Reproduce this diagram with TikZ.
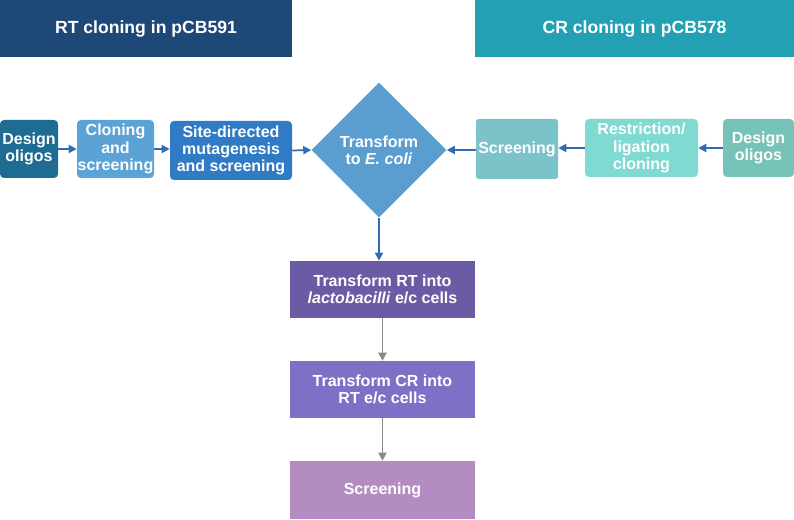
\documentclass[tikz,border=0pt]{standalone}
\usepackage{fontspec}
\setmainfont{Liberation Sans}
\usetikzlibrary{shapes.geometric,arrows.meta}
\definecolor{rthead}{RGB}{30, 72, 120}
\definecolor{crhead}{RGB}{35, 160, 180}
\definecolor{rtdesign}{RGB}{31, 108, 147}
\definecolor{rtclone}{RGB}{91, 163, 214}
\definecolor{rtsite}{RGB}{47, 123, 198}
\definecolor{ecoli}{RGB}{90, 158, 208}
\definecolor{crscreen}{RGB}{124, 195, 201}
\definecolor{crligate}{RGB}{127, 218, 210}
\definecolor{crdesign}{RGB}{120, 195, 185}
\definecolor{lacto}{RGB}{107, 91, 164}
\definecolor{rtcells}{RGB}{125, 112, 199}
\definecolor{finalscreen}{RGB}{179, 141, 194}
\definecolor{flowblue}{RGB}{47, 108, 181}
\definecolor{flowgray}{RGB}{138, 138, 138}

\begin{document}
\begin{tikzpicture}[x=0.75pt,y=-0.75pt,
    box/.style={inner sep=0pt,align=center,text=white,font=\fontsize{12}{13}\selectfont\bfseries},
    head/.style={box,font=\fontsize{13.2}{15}\selectfont\bfseries},
    bluearrow/.style={-{Triangle[length=6pt,width=6pt]},flowblue,line width=1.3pt},
    grayarrow/.style={-{Triangle[length=6pt,width=6pt]},flowgray,line width=1.4pt}]
                \useasboundingbox (0,0) rectangle (794,520);

                % headers
                \node[head,fill=rthead,minimum width=219pt,minimum height=42.75pt] (rthdr) at (146,28.5) {RT cloning in pCB591};
                \node[head,fill=crhead,minimum width=239pt,minimum height=42.75pt] (crhdr) at (634.5,28.5) {CR cloning in pCB578};

                % RT side
                \node[box,fill=rtdesign,rounded corners=3pt,minimum width=43.5pt,minimum height=43.5pt] (rtoligo) at (29,149) {Design\\oligos};
                \node[box,fill=rtclone,rounded corners=3pt,minimum width=57.75pt,minimum height=43.5pt] (rtcloning) at (115.5,149) {Cloning\\and\\screening};
                \node[box,fill=rtsite,rounded corners=3pt,minimum width=91.5pt,minimum height=44.25pt] (rtsdm) at (231,150.5) {Site-directed\\mutagenesis\\and screening};

                % centre
                \node[box,fill=ecoli,diamond,minimum width=101.25pt,minimum height=101.25pt] (ecoli) at (379,150) {Transform\\to \textit{E. coli}};

                % CR side
                \node[box,fill=crscreen,rounded corners=2pt,minimum width=61.5pt,minimum height=45pt] (crscr) at (517,149) {Screening};
                \node[box,fill=crligate,rounded corners=3pt,minimum width=84.75pt,minimum height=43.5pt] (crlig) at (641.5,148) {Restriction/\\ligation\\cloning};
                \node[box,fill=crdesign,rounded corners=3pt,minimum width=53.25pt,minimum height=43.5pt] (croligo) at (758.5,148) {Design\\oligos};

                % lactobacilli
                \node[box,fill=lacto,minimum width=138.75pt,minimum height=42.75pt] (rtlacto) at (382.5,289.5) {Transform RT into\\\textit{lactobacilli} e/c cells};
                \node[box,fill=rtcells,minimum width=138.75pt,minimum height=42.75pt] (crrt) at (382.5,389.5) {Transform CR into\\RT e/c cells};
                \node[box,fill=finalscreen,minimum width=138.75pt,minimum height=43.5pt] (screen) at (382.5,490) {Screening};

                \draw[bluearrow] (rtoligo.east) -- (rtcloning.west |- rtoligo.east);
                \draw[bluearrow] (rtcloning.east) -- (rtsdm.west |- rtcloning.east);
                \draw[bluearrow] (rtsdm.east) -- (ecoli.west);
                \draw[bluearrow] (croligo.west) -- (crlig.east |- croligo.west);
                \draw[bluearrow] (crlig.west) -- (crscr.east |- crlig.west);
                \draw[bluearrow] (crscr.west |- ecoli.east) -- (ecoli.east);
                \draw[bluearrow] (ecoli.south) -- (ecoli.south |- rtlacto.north);
                \draw[grayarrow] (rtlacto.south) -- (crrt.north);
                \draw[grayarrow] (crrt.south) -- (screen.north);
            \end{tikzpicture}
\end{document}
